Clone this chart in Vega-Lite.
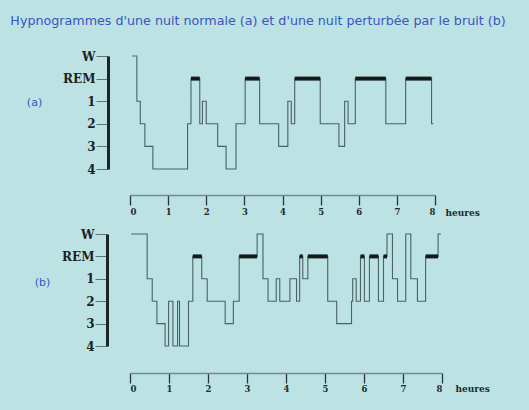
{
  "$schema": "https://vega.github.io/schema/vega-lite/v6.json",
  "background": "#bce2e4",
  "padding": {"left": 10, "top": 15, "right": 24, "bottom": 17},
  "title": {
    "text": "Hypnogrammes d'une nuit normale (a) et d'une nuit perturbée par le bruit (b)",
    "anchor": "start",
    "frame": "bounds",
    "dx": -16,
    "offset": 22,
    "font": "DejaVu Sans",
    "fontSize": 12.7,
    "fontWeight": "normal",
    "color": "#3a54c0"
  },
  "config": {
    "view": {"stroke": null},
    "axisX": {
      "values": [0, 1, 2, 3, 4, 5, 6, 7, 8],
      "format": "d",
      "grid": false,
      "domainColor": "#6f8c8e",
      "domainWidth": 1.5,
      "tickColor": "#2a3536",
      "tickSize": 10,
      "tickWidth": 1.3,
      "labelFont": "DejaVu Serif",
      "labelFontWeight": "bold",
      "labelFontSize": 8.5,
      "labelColor": "#1f2a2b",
      "labelPadding": 2,
      "titleFont": "DejaVu Serif",
      "titleFontWeight": "bold",
      "titleFontSize": 9,
      "titleColor": "#1f2a2b",
      "titleAngle": 0,
      "titleAlign": "left",
      "titleBaseline": "middle"
    },
    "axisY": {
      "grid": false,
      "domainColor": "#1c2626",
      "domainWidth": 3,
      "tickColor": "#5d7475",
      "tickSize": 12,
      "tickWidth": 1,
      "labelFont": "DejaVu Serif",
      "labelFontWeight": "bold",
      "labelFontSize": 12,
      "labelColor": "#1a2222",
      "labelPadding": 1,
      "titleAngle": 0,
      "titleFont": "DejaVu Sans",
      "titleFontWeight": "normal",
      "titleFontSize": 11,
      "titleColor": "#3a54c0",
      "titleAlign": "center",
      "titleBaseline": "middle"
    }
  },
  "datasets": {
    "a": [
      {"h": 0.06, "s": "W"}, {"h": 0.18, "s": "1"}, {"h": 0.27, "s": "2"}, {"h": 0.39, "s": "3"},
      {"h": 0.6, "s": "4"}, {"h": 1.51, "s": "2"}, {"h": 1.6, "s": "REM"}, {"h": 1.83, "s": "2"},
      {"h": 1.9, "s": "1"}, {"h": 2.0, "s": "2"}, {"h": 2.3, "s": "3"}, {"h": 2.52, "s": "4"},
      {"h": 2.78, "s": "2"}, {"h": 3.02, "s": "REM"}, {"h": 3.4, "s": "2"}, {"h": 3.9, "s": "3"},
      {"h": 4.14, "s": "1"}, {"h": 4.23, "s": "2"}, {"h": 4.32, "s": "REM"}, {"h": 4.99, "s": "2"},
      {"h": 5.48, "s": "3"}, {"h": 5.63, "s": "1"}, {"h": 5.72, "s": "2"}, {"h": 5.91, "s": "REM"},
      {"h": 6.71, "s": "2"}, {"h": 7.23, "s": "REM"}, {"h": 7.91, "s": "2"}, {"h": 7.96, "s": "2"}
    ],
    "b": [
      {"h": 0.03, "s": "W"}, {"h": 0.44, "s": "1"}, {"h": 0.57, "s": "2"}, {"h": 0.69, "s": "3"},
      {"h": 0.9, "s": "4"}, {"h": 0.99, "s": "2"}, {"h": 1.1, "s": "4"}, {"h": 1.22, "s": "2"},
      {"h": 1.27, "s": "4"}, {"h": 1.5, "s": "2"}, {"h": 1.61, "s": "REM"}, {"h": 1.84, "s": "1"},
      {"h": 1.98, "s": "2"}, {"h": 2.44, "s": "3"}, {"h": 2.65, "s": "2"}, {"h": 2.8, "s": "REM"},
      {"h": 3.26, "s": "W"}, {"h": 3.41, "s": "1"}, {"h": 3.54, "s": "2"}, {"h": 3.75, "s": "1"},
      {"h": 3.84, "s": "2"}, {"h": 4.1, "s": "1"}, {"h": 4.27, "s": "2"}, {"h": 4.35, "s": "REM"},
      {"h": 4.43, "s": "1"}, {"h": 4.56, "s": "REM"}, {"h": 5.07, "s": "2"}, {"h": 5.3, "s": "3"},
      {"h": 5.68, "s": "2"}, {"h": 5.71, "s": "1"}, {"h": 5.8, "s": "2"}, {"h": 5.91, "s": "REM"},
      {"h": 6.01, "s": "2"}, {"h": 6.14, "s": "REM"}, {"h": 6.37, "s": "2"}, {"h": 6.5, "s": "REM"},
      {"h": 6.59, "s": "W"}, {"h": 6.73, "s": "1"}, {"h": 6.86, "s": "2"}, {"h": 7.07, "s": "W"},
      {"h": 7.2, "s": "1"}, {"h": 7.37, "s": "2"}, {"h": 7.58, "s": "REM"}, {"h": 7.9, "s": "W"},
      {"h": 7.97, "s": "W"}
    ]
  },
  "bounds": "flush",
  "spacing": 65,
  "vconcat": [
    {
      "width": 305,
      "height": 113,
      "data": {"name": "a"},
      "layer": [
        {
          "mark": {"type": "line", "interpolate": "step-after", "color": "#4b6164", "strokeWidth": 1.1},
          "encoding": {
            "x": {"field": "h", "type": "quantitative", "scale": {"domain": [0, 8], "nice": false},
                  "axis": {"offset": 26, "title": "heures", "titleX": 315, "titleY": 17}},
            "y": {"field": "s", "type": "ordinal",
                  "scale": {"type": "point", "domain": ["W", "REM", "1", "2", "3", "4"], "padding": 0},
                  "axis": {"offset": 22, "title": "(a)", "titleX": -74, "titleY": 46}},
            "order": {"field": "h", "type": "quantitative"}
          }
        },
        {
          "transform": [
            {"window": [{"op": "lead", "field": "h", "as": "h2"}], "sort": [{"field": "h"}]},
            {"filter": "datum.s === 'REM'"}
          ],
          "mark": {"type": "rule", "strokeWidth": 4, "color": "#141a1a"},
          "encoding": {
            "x": {"field": "h", "type": "quantitative"},
            "x2": {"field": "h2"},
            "y": {"field": "s", "type": "ordinal"}
          }
        }
      ]
    },
    {
      "width": 312,
      "height": 112,
      "data": {"name": "b"},
      "layer": [
        {
          "mark": {"type": "line", "interpolate": "step-after", "color": "#4b6164", "strokeWidth": 1.1},
          "encoding": {
            "x": {"field": "h", "type": "quantitative", "scale": {"domain": [0, 8], "nice": false},
                  "axis": {"offset": 27, "title": "heures", "titleX": 325, "titleY": 15, "labelPadding": 1}},
            "y": {"field": "s", "type": "ordinal",
                  "scale": {"type": "point", "domain": ["W", "REM", "1", "2", "3", "4"], "padding": 0},
                  "axis": {"offset": 23, "title": "(b)", "titleX": -65, "titleY": 48}},
            "order": {"field": "h", "type": "quantitative"}
          }
        },
        {
          "transform": [
            {"window": [{"op": "lead", "field": "h", "as": "h2"}], "sort": [{"field": "h"}]},
            {"filter": "datum.s === 'REM'"}
          ],
          "mark": {"type": "rule", "strokeWidth": 4, "color": "#141a1a"},
          "encoding": {
            "x": {"field": "h", "type": "quantitative"},
            "x2": {"field": "h2"},
            "y": {"field": "s", "type": "ordinal"}
          }
        }
      ]
    }
  ]
}
